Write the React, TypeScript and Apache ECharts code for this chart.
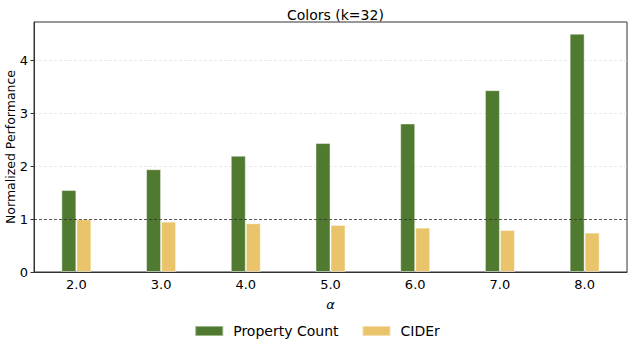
import React, { useEffect, useRef } from "react";
import * as echarts from "echarts";

const categories = ["2.0", "3.0", "4.0", "5.0", "6.0", "7.0", "8.0"];
const propertyCount = [1.55, 1.945, 2.2, 2.44, 2.81, 3.44, 4.51];
const cider = [1.0, 0.953, 0.922, 0.89, 0.84, 0.795, 0.745];
const yTicks = [0, 1, 2, 3, 4];

const FONT = "DejaVu Sans";

export default function App() {
  const ref = useRef<HTMLDivElement>(null);
  useEffect(() => {
    if (!ref.current) return;
    const chart = echarts.init(ref.current, undefined, { renderer: "svg" });
    chart.setOption({
      animation: false,
      textStyle: { fontFamily: FONT },
      title: {
        text: "Colors (k=32)",
        left: 282,
        top: 3,
        textStyle: { fontFamily: FONT, fontSize: 14, fontWeight: "normal", color: "#000" },
      },
      legend: {
        data: ["Property Count", "CIDEr"],
        left: "center",
        top: 319,
        itemWidth: 28,
        itemHeight: 10,
        itemGap: 23,
        icon: "rect",
        textStyle: { fontFamily: FONT, fontSize: 14, color: "#000", padding: [0, 0, 0, 5] },
      },
      grid: {
        left: 34,
        right: 7,
        top: 22,
        bottom: 75,
        outerBoundsMode: "none",
        containLabel: false,
        show: true,
        borderColor: "#333",
        borderWidth: 1,
        backgroundColor: "transparent",
      },
      xAxis: {
        type: "category",
        data: categories,
        name: "α",
        nameLocation: "middle",
        nameGap: 26,
        nameMoveOverlap: false,
        nameTextStyle: { fontFamily: FONT, fontSize: 13, fontStyle: "italic", color: "#000" },
        axisLine: { lineStyle: { color: "#333", width: 1 } },
        axisTick: { alignWithLabel: true, length: 3.5, lineStyle: { color: "#333" } },
        axisLabel: { fontFamily: FONT, fontSize: 13, color: "#000", margin: 6 },
      },
      yAxis: {
        type: "value",
        min: 0,
        max: 4.73,
        interval: 1,
        name: "Normalized Performance",
        nameLocation: "middle",
        nameGap: 17,
        nameMoveOverlap: false,
        nameTextStyle: { fontFamily: FONT, fontSize: 12.5, color: "#000" },
        axisLine: { show: true, lineStyle: { color: "#333", width: 1 } },
        axisTick: { show: true, length: 3.5, customValues: yTicks, lineStyle: { color: "#333" } },
        axisLabel: { fontFamily: FONT, fontSize: 13, color: "#000", margin: 6, customValues: yTicks },
        splitLine: { show: true, lineStyle: { color: "#e3e3e3", type: [3, 2], width: 0.8 } },
      },
      series: [
        {
          name: "Property Count",
          type: "bar",
          data: propertyCount,
          barWidth: 15,
          barGap: "0%",
          itemStyle: { color: "#4f7a2f", borderColor: "rgba(255,255,255,0.45)", borderWidth: 1 },
          markLine: {
            silent: true,
            symbol: "none",
            label: { show: false },
            lineStyle: { color: "#333", type: [3, 2], width: 0.8 },
            data: [{ yAxis: 1 }],
          },
        },
        {
          name: "CIDEr",
          type: "bar",
          data: cider,
          barWidth: 15,
          barGap: "0%",
          itemStyle: { color: "#e9c46a", borderColor: "rgba(255,255,255,0.45)", borderWidth: 1 },
        },
      ],
    });
    return () => chart.dispose();
  }, []);
  return <div ref={ref} style={{ width: 634, height: 347, position: "absolute", left: 0, top: 0 }} />;
}
